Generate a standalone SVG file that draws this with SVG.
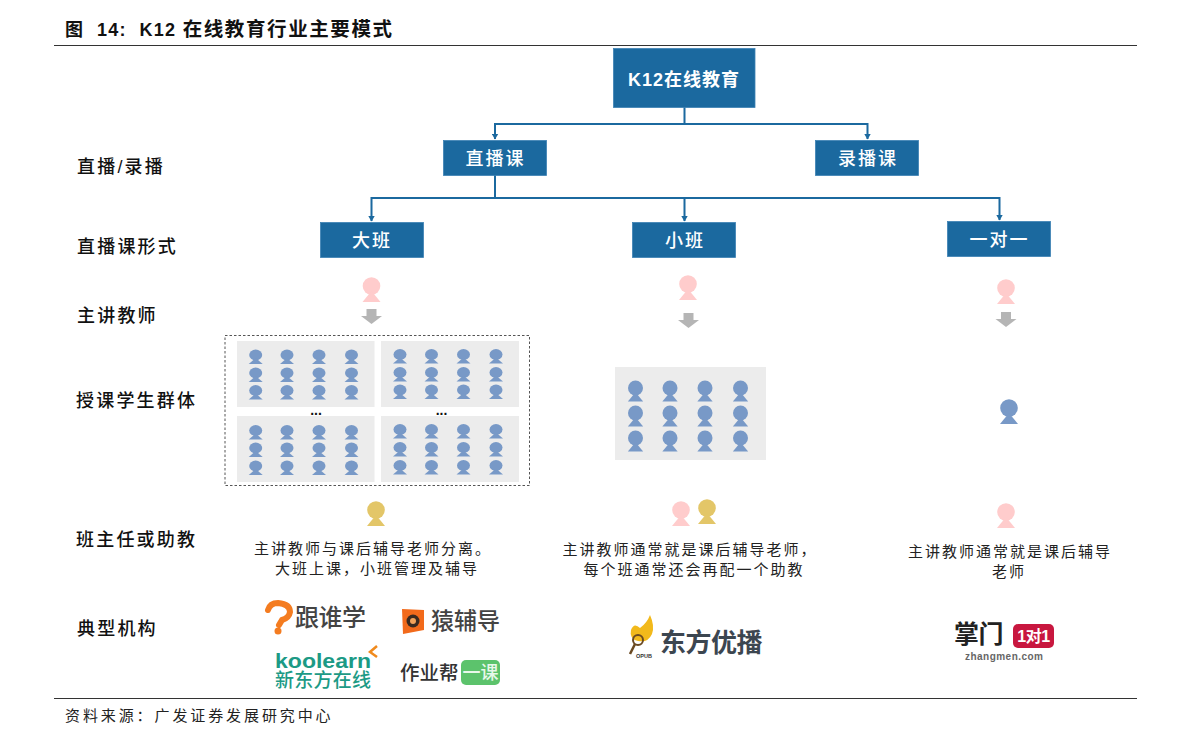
<svg xmlns="http://www.w3.org/2000/svg" xmlns:xlink="http://www.w3.org/1999/xlink" width="1191" height="745" viewBox="0 0 1191 745">
<style>
text{font-family:"Liberation Sans","Noto Sans CJK SC",sans-serif}
.box{fill:#1b699f;stroke:#3d82b3;stroke-width:.8}
.bt{fill:#fff;font-size:18px;font-weight:500;text-anchor:middle;letter-spacing:2px}
.lab{fill:#111;font-size:18px;font-weight:500;letter-spacing:2.2px}
.cap{fill:#222;font-size:15px;text-anchor:middle;letter-spacing:2px}
.con{fill:none;stroke:#1b699f;stroke-width:2}
.panel{fill:#ececec}
.dots{fill:#111;font-size:14px;text-anchor:middle;font-weight:700}
.blue{fill:#7899c7}.pink{fill:#ffcccc}.gold{fill:#e3c668}
</style>
<defs>
<marker id="arr" markerWidth="7" markerHeight="7" refX="5.5" refY="3.5" orient="auto" markerUnits="userSpaceOnUse"><path d="M0 0L6 3.5L0 7Z" fill="#1b699f"/></marker>
<g id="p"><ellipse cx="0" cy="0" rx="6.5" ry="5.4"/><path d="M0 3L7 9H-7Z"/></g>
<g id="big"><circle cx="0" cy="0" r="8.8"/><path d="M0 5L9 16H-9Z"/></g>
<path id="down" d="M-5 0H5V7H10.500L0 15L-10.500 7H-5Z" fill="#b5b5b5"/>
<g id="row4a" class="blue"><use href="#p" x="255.7"/><use href="#p" x="287"/><use href="#p" x="319"/><use href="#p" x="351.5"/></g>
<g id="row4b" class="blue"><use href="#p" x="400"/><use href="#p" x="431.5"/><use href="#p" x="463.5"/><use href="#p" x="496"/></g>
</defs>
<rect width="1191" height="745" fill="#fff"/>
<g id="title"><text x="65" y="36" font-size="18" font-weight="700" letter-spacing="1.3" fill="#111" xml:space="preserve">图  14:  K12 <tspan font-size="19.500" letter-spacing="1.6">在线教育行业主要模式</tspan></text></g>
<path d="M54 45.500H1137M54 698.500H1137" stroke="#333" stroke-width="1.2" fill="none"/>
<g id="connectors">
<path class="con" d="M684.500 107V124H495V139" marker-end="url(#arr)"/>
<path class="con" d="M684.500 124H867.500V139" marker-end="url(#arr)"/>
<path class="con" d="M495 175V198H371.500V221" marker-end="url(#arr)"/>
<path class="con" d="M495 198H684.500V221" marker-end="url(#arr)"/>
<path class="con" d="M684.500 198H999.500V220" marker-end="url(#arr)"/>
</g>
<g id="n-root"><rect class="box" x="613.500" y="48.500" width="141.500" height="59"/><text class="bt" x="684" y="85.500" style="font-weight:700;letter-spacing:1px">K12在线教育</text></g>
<g id="n-live"><rect class="box" x="443.500" y="140.500" width="103" height="35"/><text class="bt" x="495.500" y="164.500">直播课</text></g>
<g id="n-rec"><rect class="box" x="815.500" y="140.500" width="103" height="35"/><text class="bt" x="868" y="164.500">录播课</text></g>
<g id="n-big"><rect class="box" x="320.500" y="222.500" width="103" height="35"/><text class="bt" x="372" y="246.500">大班</text></g>
<g id="n-small"><rect class="box" x="632.500" y="222.500" width="103" height="35"/><text class="bt" x="685" y="246.500">小班</text></g>
<g id="n-one"><rect class="box" x="947.500" y="221.500" width="103" height="35"/><text class="bt" x="999.500" y="245.500">一对一</text></g>
<g id="labels">
<text class="lab" x="77" y="173">直播/录播</text>
<text class="lab" x="77" y="253">直播课形式</text>
<text class="lab" x="77" y="322">主讲教师</text>
<text class="lab" x="76" y="407">授课学生群体</text>
<text class="lab" x="76" y="546">班主任或助教</text>
<text class="lab" x="77" y="635">典型机构</text>
</g>
<g id="big-class">
<rect x="225" y="335.500" width="304.500" height="150" fill="none" stroke="#555" stroke-width="1" stroke-dasharray="2.500 2"/>
<rect class="panel" x="237" y="341" width="137.500" height="66"/><rect class="panel" x="381" y="341" width="138" height="66"/>
<rect class="panel" x="237" y="416" width="137.500" height="66"/><rect class="panel" x="381" y="416" width="138" height="66"/>
<use href="#row4a" y="355"/><use href="#row4a" y="373"/><use href="#row4a" y="390.500"/>
<use href="#row4b" y="354.500"/><use href="#row4b" y="372.500"/><use href="#row4b" y="390"/>
<use href="#row4a" y="430.500"/><use href="#row4a" y="448"/><use href="#row4a" y="466"/>
<use href="#row4b" y="429.500"/><use href="#row4b" y="447.500"/><use href="#row4b" y="465.500"/>
<text class="dots" x="316" y="415">...</text><text class="dots" x="441.500" y="415">...</text>
</g>
<g id="small-class">
<rect class="panel" x="615" y="367" width="151" height="93"/>
<g class="blue" id="sc">
<use href="#big" transform="translate(635.500 388) scale(.85)"/><use href="#big" transform="translate(670 388) scale(.85)"/><use href="#big" transform="translate(705 388) scale(.85)"/><use href="#big" transform="translate(740.500 388) scale(.85)"/>
<use href="#big" transform="translate(635.500 413) scale(.85)"/><use href="#big" transform="translate(670 413) scale(.85)"/><use href="#big" transform="translate(705 413) scale(.85)"/><use href="#big" transform="translate(740.500 413) scale(.85)"/>
<use href="#big" transform="translate(635.500 438) scale(.85)"/><use href="#big" transform="translate(670 438) scale(.85)"/><use href="#big" transform="translate(705 438) scale(.85)"/><use href="#big" transform="translate(740.500 438) scale(.85)"/>
</g>
</g>
<g id="teachers">
<use href="#big" class="pink" x="371.500" y="286"/><use href="#down" x="371.500" y="309"/>
<use href="#big" class="pink" x="688" y="284"/><use href="#down" x="688.500" y="313"/>
<use href="#big" class="pink" x="1006" y="288"/><use href="#down" x="1006" y="312"/>
<use href="#big" class="blue" x="1009" y="408"/>
<use href="#big" class="gold" x="376" y="510"/>
<use href="#big" class="pink" x="681" y="510"/><use href="#big" class="gold" x="707" y="508"/>
<use href="#big" class="pink" x="1006" y="512"/>
</g>
<g id="captions">
<text class="cap" x="373" y="554">主讲教师与课后辅导老师分离。</text>
<text class="cap" x="377" y="574">大班上课，小班管理及辅导</text>
<text class="cap" x="690" y="555">主讲教师通常就是课后辅导老师，</text>
<text class="cap" x="694" y="575">每个班通常还会再配一个助教</text>
<text class="cap" x="1010" y="557">主讲教师通常就是课后辅导</text>
<text class="cap" x="1009" y="577">老师</text>
</g>
<g id="logos">
<path d="M268 610Q270 603 278 603Q290 604 290 612Q289 618 282 620L279 625" fill="none" stroke="#f47c20" stroke-width="6" stroke-linecap="round"/><circle cx="278" cy="631" r="3.500" fill="#f47c20"/>
<text x="295" y="626" font-size="24" fill="#444" font-weight="500" style="letter-spacing:-.5px">跟谁学</text>
<path d="M402 609L424 610V630L403 634Z" fill="#f26a1b"/><circle cx="413" cy="621" r="6.500" fill="#3a2a20"/><circle cx="413" cy="621" r="3" fill="#f2a35a"/>
<text x="431" y="629" font-size="23" fill="#444" font-weight="500">猿辅导</text>
<text x="275" y="668" font-size="20" fill="#1c9a85" font-weight="700" textLength="96" lengthAdjust="spacingAndGlyphs">koolearn</text>
<path d="M377 646L370 652L377 657" fill="none" stroke="#f08a1d" stroke-width="2.500"/>
<text x="275" y="687" font-size="19" fill="#1c9a85" font-weight="500" textLength="96">新东方在线</text>
<text x="400" y="680" font-size="19.500" fill="#333" font-weight="500">作业帮</text>
<rect x="461" y="660" width="39" height="25" rx="5" fill="#5cc36c"/>
<text x="480.500" y="679" font-size="18" fill="#e8f8ea" text-anchor="middle" font-weight="500">一课</text>
<path d="M650 615Q655 626 652 634Q648 643 638 641Q629 639 631 630Q634 622 640 628Q647 623 650 615Z" fill="#f2b91b"/>
<circle cx="638" cy="640" r="5" fill="none" stroke="#6b4a22" stroke-width="2"/><path d="M635 644L630 654" stroke="#6b4a22" stroke-width="2.500"/>
<text x="636" y="658" font-size="5.500" font-weight="700" fill="#333">OPUB</text>
<text x="660" y="652" font-size="26" fill="#3c4650" font-weight="700" letter-spacing="-.5">东方优播</text>
<text x="954" y="643" font-size="25" fill="#222" font-weight="700" letter-spacing="-.5">掌门</text>
<rect x="1013" y="624" width="41" height="24" rx="5" fill="#c8173f"/>
<text x="1033.500" y="642" font-size="16" font-weight="700" fill="#fff" text-anchor="middle" letter-spacing="-.5">1对1</text>
<text x="965" y="660" font-size="10" fill="#666" textLength="78" font-weight="700">zhangmen.com</text>
</g>
<g id="source"><text x="65" y="721" font-size="15" fill="#222" letter-spacing="2.900">资料来源：广发证券发展研究中心</text></g>
</svg>
